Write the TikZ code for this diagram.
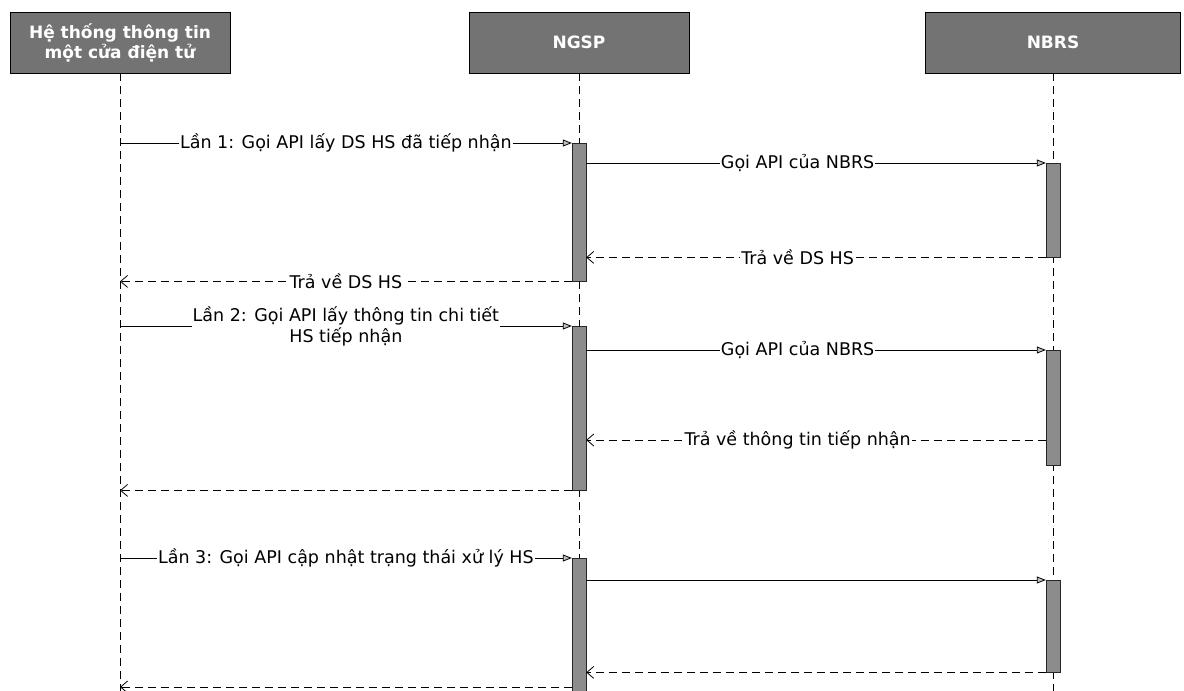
\documentclass[tikz,border=0pt]{standalone}
\usepackage{fontspec}
\setmainfont{DejaVu Sans}
\usetikzlibrary{arrows.meta, positioning, calc}

\tikzset{
  head/.style={draw=black, fill=black!55, minimum height=61pt, inner sep=0pt,
    font=\bfseries\fontsize{17}{20}\selectfont, text=white, align=center},
  life/.style={dash pattern=on 8pt off 5pt, line width=0.8pt},
  bar/.style={draw=black!85, fill=black!45, minimum width=14pt, inner sep=0pt, anchor=north},
  call/.style={line width=0.8pt, -{Triangle[length=9pt,width=7pt,fill=gray!50]}},
  reply/.style={line width=0.8pt, dash pattern=on 8pt off 5pt, -{Straight Barb[length=7pt,width=12pt]}},
  lbl/.style={fill=white, inner sep=1pt, font=\fontsize{17.5}{21}\selectfont, align=center},
}

\begin{document}
\begin{tikzpicture}[x=1pt, y=-1pt]
\useasboundingbox (0,0) rectangle (1184,691);
\coordinate (bot) at (0,691);

% lifeline heads
\node[head, minimum width=220pt] (hts) at (120,42.5) {Hệ thống thông tin\\một cửa điện tử};
\node[head, minimum width=220pt] (ngsp) at (579,42.5) {NGSP};
\node[head, minimum width=255pt] (nbrs) at (1053,42.5) {NBRS};

% lifelines
\foreach \p in {hts, ngsp, nbrs}
  \draw[life] (\p.south) -- (\p.south |- bot);

% activation bars
\node[bar, minimum height=138pt] (ng1) at (579,143) {};
\node[bar, minimum height=94pt]  (nb1) at (1053,163) {};
\node[bar, minimum height=164pt] (ng2) at (579,326) {};
\node[bar, minimum height=115pt] (nb2) at (1053,350) {};
\node[bar, minimum height=134pt] (ng3) at (579,558) {};
\node[bar, minimum height=92pt]  (nb3) at (1053,580) {};

% Lan 1
\draw[call] (hts |- ng1.north) -- (ng1.north west)
  node[lbl, midway] {Lần 1: Gọi API lấy DS HS đã tiếp nhận};
\draw[call] (ng1.east |- nb1.north) -- (nb1.north west)
  node[lbl, pos=0.46] {Gọi API của NBRS};
\draw[reply] (nb1.south west) -- (ng1.east |- nb1.south)
  node[lbl, pos=0.54] {Trả về DS HS};
\draw[reply] (ng1.south west) -- (hts |- ng1.south)
  node[lbl, midway] {Trả về DS HS};

% Lan 2
\draw[call] (hts |- ng2.north) -- (ng2.north west)
  node[lbl, midway] {Lần 2: Gọi API lấy thông tin chi tiết\\HS tiếp nhận};
\draw[call] (ng2.east |- nb2.north) -- (nb2.north west)
  node[lbl, pos=0.46] {Gọi API của NBRS};
\draw[reply] ($(nb2.north west)+(0,90)$) coordinate (r2) -- (ng2.east |- r2)
  node[lbl, pos=0.54] {Trả về thông tin tiếp nhận};
\draw[reply] (ng2.south west) -- (hts |- ng2.south);

% Lan 3
\draw[call] (hts |- ng3.north) -- (ng3.north west)
  node[lbl, midway] {Lần 3: Gọi API cập nhật trạng thái xử lý HS};
\draw[call] (ng3.east |- nb3.north) -- (nb3.north west);
\draw[reply] (nb3.south west) -- (ng3.east |- nb3.south);
\draw[reply] ($(ng3.north west)+(0,129)$) coordinate (r3) -- (hts |- r3);

\end{tikzpicture}
\end{document}
